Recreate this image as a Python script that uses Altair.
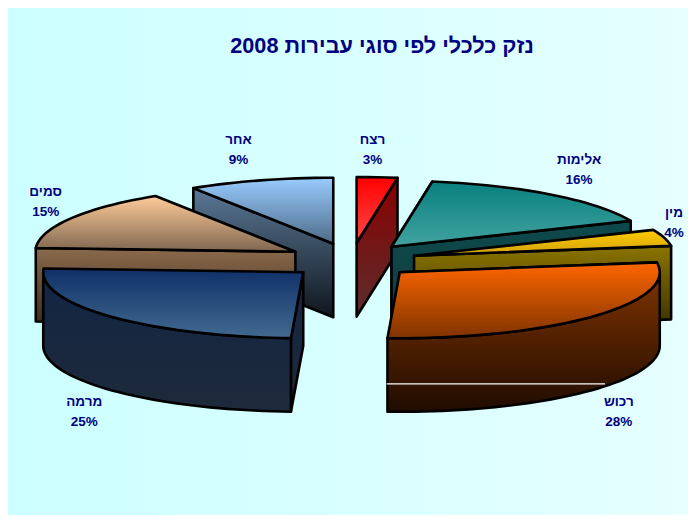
import math
import altair as alt
import pandas as pd

# ---- chart values ----
labels = ["רצח", "אלימות", "מין", "רכוש", "מרמה", "סמים", "אחר"]
values = [2.5, 16, 4, 28, 25, 15, 9]
title_text = "\u202bנזק כלכלי לפי סוגי עבירות 2008\u202c"

# ---- colours (top gradient, wall gradient) for each slice ----
top_colors = [("#ff0000", "#ff4a4a"), ("#08807f", "#42a3a0"), ("#ffcc00", "#d0a010"),
              ("#ff6600", "#7f3300"), ("#0f3068", "#426a90"), ("#ffcc99", "#7f6650"),
              ("#99ccff", "#4d6b88")]
wall_colors = [("#8b0000", "#5a2d2d"), ("#0d4a4c", "#123c3e"), ("#8b7400", "#3a3000"),
               ("#803300", "#1f0c00"), ("#122544", "#1e2a3a"), ("#8a6a4c", "#3c2a18"),
               ("#5a7896", "#10161e")]

# ---- pie model, in picture units ----
CX, CY = 351.5, 260.5
RX, RY = 260.0, 66.0
EXPLODE = 0.25, 0.265
DEPTH = 73.5

total = sum(values)
starts, ends = [], []
acc = 0.0
for v in values:
    starts.append(acc / total * 360)
    acc += v
    ends.append(acc / total * 360)


def apex(i):
    m = math.radians((starts[i] + ends[i]) / 2)
    return CX + EXPLODE[0] * RX * math.sin(m), CY - EXPLODE[1] * RY * math.cos(m)


def rim(i, deg):
    a = apex(i)
    t = math.radians(deg)
    return a[0] + RX * math.sin(t), a[1] - RY * math.cos(t)


def arc(i, a, b):
    n = max(2, int(abs(b - a) / 2))
    return [rim(i, a + (b - a) * k / n) for k in range(n + 1)]


def top(i):
    return [apex(i)] + arc(i, starts[i], ends[i])


def radial(i, deg):
    a, r = apex(i), rim(i, deg)
    return [a, r, (r[0], r[1] + DEPTH), (a[0], a[1] + DEPTH)]


def outer(i, a, b):
    pts = arc(i, a, b)
    return pts + [(x, y + DEPTH) for x, y in reversed(pts)]


X = alt.Scale(domain=[8, 688], range=[0, 680])
Y = alt.Scale(domain=[8, 515], range=[0, 507])


def grad(c):
    return alt.Gradient(gradient="linear", x1=0, x2=0, y1=0, y2=1,
                        stops=[alt.GradientStop(offset=0, color=c[0]),
                               alt.GradientStop(offset=1, color=c[1])])


def face(pts, colors):
    df = pd.DataFrame({"x": [p[0] for p in pts], "y": [p[1] for p in pts], "i": range(len(pts))})
    return alt.Chart(df).mark_line(interpolate="linear-closed", fill=grad(colors), stroke="black",
                                   strokeWidth=2.6, strokeJoin="round").encode(
        x=alt.X("x:Q", scale=X, axis=None),
        y=alt.Y("y:Q", scale=Y, axis=None),
        order="i:Q")


layers = []
bg = alt.Chart(pd.DataFrame({"a": [0]})).mark_rect(
    fill=alt.Gradient(gradient="linear", x1=0, x2=1, y1=0, y2=0,
                      stops=[alt.GradientStop(offset=0, color="#ccffff"),
                             alt.GradientStop(offset=1, color="#e6ffff")])
).encode(x=alt.value(0), x2=alt.value(680), y=alt.value(0), y2=alt.value(507))
layers.append(bg)

RED, TEAL, YEL, ORA, NAVY, TAN, BLUE = range(7)

# left half, back to front
layers += [face(radial(BLUE, starts[BLUE]), wall_colors[BLUE]), face(top(BLUE), top_colors[BLUE])]
layers += [face(radial(TAN, starts[TAN]), wall_colors[TAN]), face(top(TAN), top_colors[TAN])]
layers += [face(radial(NAVY, starts[NAVY]), wall_colors[NAVY]),
           face(outer(NAVY, starts[NAVY], 270), wall_colors[NAVY]),
           face(top(NAVY), top_colors[NAVY])]
# right half, back to front
layers += [face(radial(RED, ends[RED]), wall_colors[RED]), face(top(RED), top_colors[RED])]
layers += [face(radial(TEAL, starts[TEAL]), wall_colors[TEAL]),
           face(radial(TEAL, ends[TEAL]), wall_colors[TEAL]), face(top(TEAL), top_colors[TEAL])]
layers += [face(radial(YEL, ends[YEL]), wall_colors[YEL]), face(top(YEL), top_colors[YEL])]
layers += [face(radial(ORA, starts[ORA]), wall_colors[ORA]),
           face(outer(ORA, 90, ends[ORA]), wall_colors[ORA]), face(top(ORA), top_colors[ORA])]

# thin light seam across the front wall of the largest slice
seam = pd.DataFrame({"x": [apex(ORA)[0] - 13], "x2": [605.0], "y": [apex(ORA)[1] + RY + DEPTH * 0.62]})
layers.append(alt.Chart(seam).mark_rule(color="white", strokeWidth=1.2).encode(
    x=alt.X("x:Q", scale=X, axis=None), x2="x2:Q", y=alt.Y("y:Q", scale=Y, axis=None)))

# labels
rows = []
for i, (l, v) in enumerate(zip(labels, values)):
    m = math.radians((starts[i] + ends[i]) / 2)
    s, c = math.sin(m), math.cos(m)
    lx = CX + 360 * s
    ly = CY - 115 * c if c > 0 else CY + 226 * abs(c)
    if i == RED:
        lx, ly = CX + 21, 150
    if i == BLUE:
        lx = CX - 113
    if i == TEAL:
        lx += 6
    if i == TAN:
        lx += 5
    if i == YEL:
        lx, ly = 674, 223
    pct = f"{math.floor(v + 0.5)}%"
    rows.append({"x": lx, "y": ly - 10, "t": l})
    rows.append({"x": lx, "y": ly + 10, "t": pct})
layers.append(alt.Chart(pd.DataFrame(rows)).mark_text(
    font="Liberation Sans", fontSize=13.5, fontWeight="bold", color="#000080").encode(
    x=alt.X("x:Q", scale=X, axis=None), y=alt.Y("y:Q", scale=Y, axis=None), text="t:N"))

# title
layers.append(alt.Chart(pd.DataFrame({"x": [382.0], "y": [46.0], "t": [title_text]})).mark_text(
    font="Liberation Sans", fontSize=21.7, fontWeight="bold", color="#000080").encode(
    x=alt.X("x:Q", scale=X, axis=None), y=alt.Y("y:Q", scale=Y, axis=None), text="t:N"))

chart = alt.layer(*layers).properties(width=680, height=507, padding=0,
                                      autosize=alt.AutoSizeParams(type="none")
                                      ).configure_view(stroke=None)
chart.save("out.html", embed_options={"renderer": "svg", "actions": False})
